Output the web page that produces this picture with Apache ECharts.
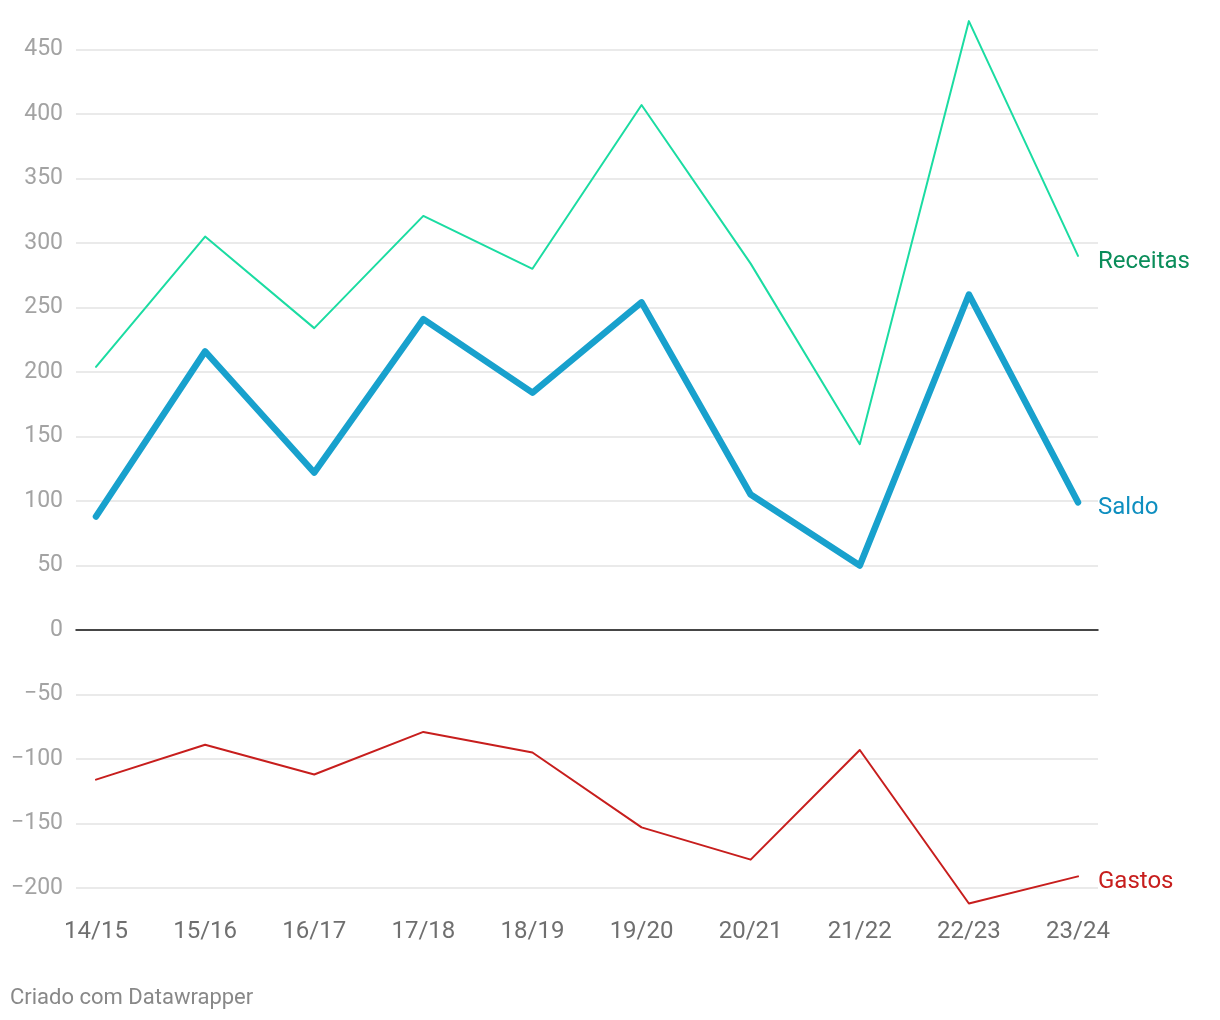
<!DOCTYPE html>
<html>
<head>
<meta charset="utf-8">
<script src="https://cdn.jsdelivr.net/npm/echarts@6/dist/echarts.min.js"></script>
<style>
html,body{margin:0;padding:0;background:#fff;}
#chart{width:1220px;height:1020px;}
</style>
</head>
<body>
<div id="chart"></div>
<script>
const categories = ['14/15','15/16','16/17','17/18','18/19','19/20','20/21','21/22','22/23','23/24'];
const receitas = [204, 305, 234, 321, 280, 407, 284, 144, 472, 290];
const saldo = [88, 216, 122, 241, 184, 254, 105, 50, 260, 99];
const gastos = [-116, -89, -112, -79, -95, -153, -178, -93, -212, -191];
const yTicks = { min: -200, max: 450, step: 50 };

const FONT = 'Roboto, "Noto Sans", sans-serif';
const chart = echarts.init(document.getElementById('chart'), null, { renderer: 'canvas' });

function lineSeries(name, data, color, width, labelColor) {
  return {
    name: name, type: 'line', xAxisIndex: 1, yAxisIndex: 1,
    data: data, symbol: 'none', clip: false, animation: false,
    lineStyle: { color: color, width: width, cap: 'round', join: 'round' },
    endLabel: {
      show: true, formatter: name, color: labelColor, fontSize: 24,
      fontFamily: FONT, distance: 20, offset: [0, 6]
    },
    emphasis: { disabled: true }
  };
}

chart.setOption({
  animation: false,
  backgroundColor: '#ffffff',
  textStyle: { fontFamily: FONT },
  grid: [
    { left: 76, right: 122, top: 49.5, bottom: 132 },
    { left: 96, right: 142, top: 49.5, bottom: 132 }
  ],
  xAxis: [
    { type: 'value', gridIndex: 0, min: 0, max: 1,
      axisLine: { show: true, onZero: true, lineStyle: { color: '#111', width: 1.5 } },
      axisTick: { show: false }, axisLabel: { show: false }, splitLine: { show: false } },
    { type: 'category', gridIndex: 1, data: categories, boundaryGap: false,
      axisLine: { show: false }, axisTick: { show: false }, splitLine: { show: false },
      axisLabel: { color: '#6f6f6f', fontSize: 24, fontFamily: FONT, margin: 32 } }
  ],
  yAxis: [
    { type: 'value', gridIndex: 0, min: yTicks.min, max: yTicks.max, interval: yTicks.step,
      axisLine: { show: false }, axisTick: { show: false },
      axisLabel: { color: '#a3a3a3', fontSize: 23, fontFamily: FONT, margin: 13, padding: [3, 0, 0, 0],
        formatter: v => (v < 0 ? '\u2212' + Math.abs(v) : String(v)) },
      splitLine: { lineStyle: { color: '#e3e3e3', width: 1.5 } } },
    { type: 'value', gridIndex: 1, min: yTicks.min, max: yTicks.max, interval: yTicks.step,
      show: false, splitLine: { show: false } }
  ],
  series: [
    lineSeries('Receitas', receitas, '#1bdca2', 2, '#0a8d5a'),
    lineSeries('Gastos', gastos, '#c71e1d', 2, '#c71e1d'),
    lineSeries('Saldo', saldo, '#18a1cd', 6.5, '#0f8fc0')
  ],
  graphic: [
    { type: 'text', left: 10, top: 987,
      style: { text: 'Criado com Datawrapper', fill: '#888888', fontSize: 22, fontFamily: FONT } }
  ]
});
</script>
</body>
</html>
